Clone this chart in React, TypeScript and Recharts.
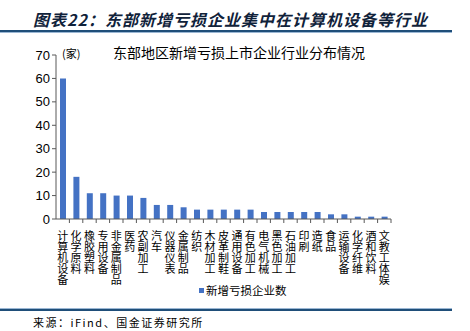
import { BarChart, Bar, XAxis, YAxis, Legend } from "recharts";

const categories = [
  "计算机设备",
  "化学原料",
  "橡胶塑料",
  "专用设备",
  "非金属制品",
  "医药",
  "农副加工",
  "汽车",
  "仪器仪表",
  "金属制品",
  "纺织",
  "木材加工",
  "皮革制鞋",
  "通用设备",
  "有色加工",
  "电气机械",
  "黑色加工",
  "石油加工",
  "印刷",
  "造纸",
  "食品",
  "运输设备",
  "化学纤维",
  "酒和饮料",
  "文教工体娱",
];
const lossCounts = [60, 18, 11, 11, 10, 10, 9, 6, 6, 5, 4, 4, 4, 4, 4, 3, 3, 3, 3, 3, 2, 2, 1, 1, 1];
const yTicks = [0, 10, 20, 30, 40, 50, 60, 70];

const data = categories.map((name, i) => ({ name, value: lossCounts[i] }));

const FONT = "'Noto Sans CJK SC', 'Liberation Sans', sans-serif";
const BAND = 335 / categories.length;

// category names stacked one character per row, as in the original
function CategoryTick(props: any) {
  const { x, y, payload } = props;
  return (
    <g>
      <line x1={x + BAND / 2} y1={y - 8} x2={x + BAND / 2} y2={y - 4} stroke="#595959" />
      <text
        x={x}
        y={y + 3}
        fontSize={11}
        fill="#000"
        fontFamily={FONT}
        style={{ writingMode: "vertical-rl", textOrientation: "upright" } as any}
      >
        {payload.value}
      </text>
    </g>
  );
}

function LegendContent() {
  return (
    <div style={{ display: "flex", alignItems: "center", fontSize: 11.5, fontFamily: FONT, color: "#000" }}>
      <span style={{ width: 5, height: 5, background: "#4472C4", marginRight: 2, display: "inline-block" }} />
      新增亏损企业数
    </div>
  );
}

export default function App() {
  return (
    <div style={{ position: "absolute", left: 0, top: 0, width: 470, height: 331, background: "#fff", fontFamily: FONT }}>
      <div
        style={{
          position: "absolute",
          left: 33,
          top: 7,
          fontSize: 16,
          fontWeight: "bold",
          fontStyle: "italic",
          letterSpacing: 1,
          color: "#10223a",
          whiteSpace: "nowrap",
        }}
      >
        图表22：东部新增亏损企业集中在计算机设备等行业
      </div>
      <div style={{ position: "absolute", left: 0, top: 30, width: 452, height: 2, background: "#1f4e79", borderBottom: "1px solid #9bb7d4" }} />
      <div style={{ position: "absolute", left: 113, top: 42, fontSize: 14, color: "#000", whiteSpace: "nowrap" }}>
        东部地区新增亏损上市企业行业分布情况
      </div>
      <div style={{ position: "absolute", left: 62, top: 45, fontSize: 11, color: "#000" }}>(家)</div>
      <BarChart
        width={470}
        height={305}
        data={data}
        margin={{ top: 55, right: 79, bottom: 0, left: 0 }}
        barSize={6}
      >
        <YAxis
          domain={[0, 70]}
          ticks={yTicks}
          interval={0}
          width={56}
          tick={{ fontSize: 13, fill: "#000", fontFamily: "'Liberation Sans', Arial, sans-serif" }}
          tickLine={{ stroke: "#595959" }}
          tickSize={4}
          axisLine={{ stroke: "#595959" }}
        />
        <XAxis
          dataKey="name"
          interval={0}
          height={70}
          tick={<CategoryTick />}
          tickLine={false}
          axisLine={{ stroke: "#595959" }}
        />
        <Legend
          content={<LegendContent />}
          verticalAlign="bottom"
          wrapperStyle={{ left: 199, width: 120, bottom: 7 }}
        />
        <Bar dataKey="value" fill="#4472C4" isAnimationActive={false} />
      </BarChart>
      <div style={{ position: "absolute", left: 0, top: 308, width: 452, height: 2, background: "#1f4e79", borderTop: "1px solid #9bb7d4" }} />
      <div style={{ position: "absolute", left: 33, top: 314, fontSize: 11, letterSpacing: 1.5, color: "#000", whiteSpace: "nowrap" }}>
        来源：iFind、国金证券研究所
      </div>
    </div>
  );
}
